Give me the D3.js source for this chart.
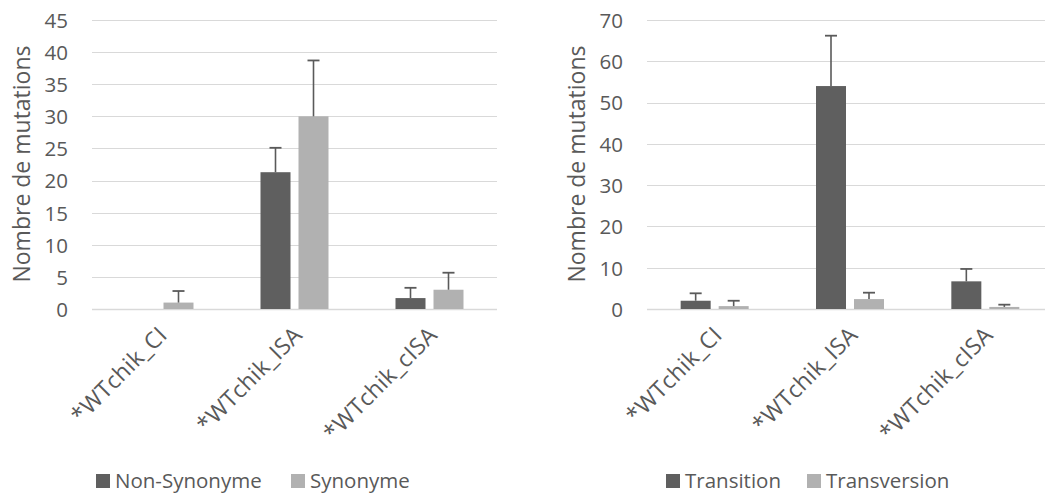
<!DOCTYPE html>
<html><head><meta charset="utf-8">
<script src="https://cdn.jsdelivr.net/npm/d3@7/dist/d3.min.js"></script>
<style>
html,body{margin:0;padding:0;background:#fff;overflow:hidden}
text{font-family:"Open Sans",sans-serif;fill:#595959}
</style></head>
<body>
<svg id="c" width="1045" height="493"></svg>
<script>
const categories = ["*WTchik_CI", "*WTchik_ISA", "*WTchik_cISA"];

const leftSeries = ["Non-Synonyme", "Synonyme"];
const nonSynonyme = [0, 21.3, 1.7];
const nonSynonymeErr = [0, 3.8, 1.6];
const synonyme = [1.0, 30, 3.0];
const synonymeErr = [1.8, 8.7, 2.65];
const leftTicks = [0, 5, 10, 15, 20, 25, 30, 35, 40, 45];

const rightSeries = ["Transition", "Transversion"];
const transition = [2.0, 54, 6.7];
const transitionErr = [1.8, 12.2, 3.0];
const transversion = [0.7, 2.4, 0.5];
const transversionErr = [1.3, 1.55, 0.55];
const rightTicks = [0, 10, 20, 30, 40, 50, 60, 70];

const yTitle = "Nombre de mutations";
const colors = ["#5f5f5f", "#b1b1b1"];

const svg = d3.select("#c");

function drawChart(cfg) {
  const g = svg.append("g");
  const x0 = d3.scaleBand().domain(categories).range([cfg.x0, cfg.x1]).padding(0);
  const bw = x0.bandwidth();
  const step = 38, barW = 30;
  const pi = (step - barW) / step;
  const po = (bw / step - (2 - pi)) / 2;
  const x1 = d3.scaleBand().domain(cfg.series).range([0, bw]).paddingInner(pi).paddingOuter(po);
  const y = d3.scaleLinear().domain([0, cfg.max]).range([309, 20]);

  g.selectAll(".grid").data(cfg.ticks).enter().append("line")
    .attr("x1", cfg.x0).attr("x2", cfg.x1)
    .attr("y1", d => Math.round(y(d)) + 0.5).attr("y2", d => Math.round(y(d)) + 0.5)
    .attr("stroke", "#d9d9d9").attr("stroke-width", d => d === 0 ? 1.4 : 1.1);

  const axis = d3.axisLeft(y).tickValues(cfg.ticks).tickSize(0).tickPadding(0);
  const ag = g.append("g").attr("transform", `translate(${cfg.x0 - 24},0)`).call(axis);
  ag.select(".domain").remove();
  ag.selectAll("text").style("font-size", "20.5px").attr("fill", "#595959").attr("dy", "0.36em");

  cfg.values.forEach((vals, si) => {
    const errs = cfg.errs[si];
    const sName = cfg.series[si];
    categories.forEach((c, ci) => {
      const v = vals[ci];
      const bx = x0(c) + x1(sName);
      if (v > 0) {
        g.append("rect").attr("x", bx).attr("width", x1.bandwidth())
          .attr("y", y(v)).attr("height", y(0) - y(v)).attr("fill", colors[si]);
      }
      const e = errs[ci];
      if (e > 0) {
        const cx = bx + x1.bandwidth() / 2;
        g.append("line").attr("x1", cx).attr("x2", cx).attr("y1", y(v)).attr("y2", y(v + e))
          .attr("stroke", "#5a5a5a").attr("stroke-width", 1.6);
        g.append("line").attr("x1", cx - 6).attr("x2", cx + 6).attr("y1", y(v + e)).attr("y2", y(v + e))
          .attr("stroke", "#5a5a5a").attr("stroke-width", 1.8);
      }
    });
  });

  categories.forEach(c => {
    const cx = x0(c) + bw / 2;
    g.append("text").attr("text-anchor", "end")
      .attr("transform", `translate(${cx + 9},${336.5}) rotate(-45)`)
      .style("font-size", "23px").style("letter-spacing", "0.4px").text(c);
  });

  g.append("text").attr("text-anchor", "middle")
    .attr("transform", `translate(${cfg.titleX},164) rotate(-90)`)
    .attr("dy", "0.35em")
    .style("font-size", "23px").text(yTitle);

  cfg.series.forEach((s, i) => {
    const lx = cfg.legendX[i];
    g.append("rect").attr("x", lx).attr("y", 474).attr("width", 14).attr("height", 14).attr("fill", colors[i]);
    g.append("text").attr("x", lx + 19).attr("y", 481).attr("dy", "0.36em")
      .style("font-size", "20.5px").text(s);
  });
}

drawChart({
  x0: 92, x1: 497, max: 45, ticks: leftTicks, series: leftSeries,
  values: [nonSynonyme, synonyme], errs: [nonSynonymeErr, synonymeErr],
  titleX: 22, legendX: [96, 291]
});
drawChart({
  x0: 647, x1: 1053, max: 70, ticks: rightTicks, series: rightSeries,
  values: [transition, transversion], errs: [transitionErr, transversionErr],
  titleX: 577, legendX: [666, 807]
});
</script>
</body></html>
